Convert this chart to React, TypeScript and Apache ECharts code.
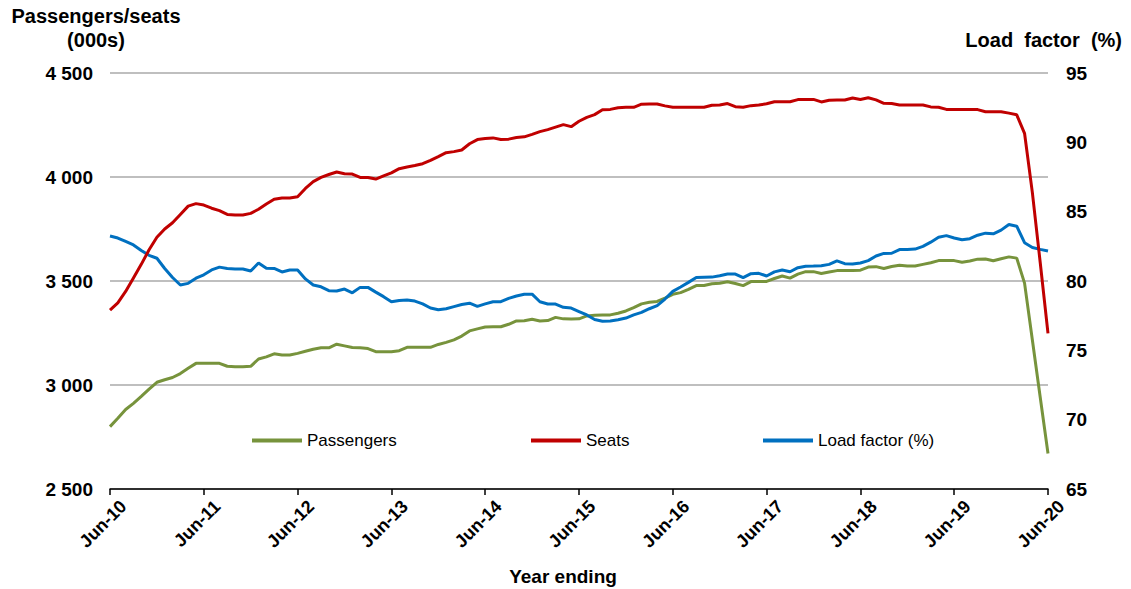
import React, { useEffect, useRef } from "react";
import * as echarts from "echarts";

const monthNames = ["Jan", "Feb", "Mar", "Apr", "May", "Jun", "Jul", "Aug", "Sep", "Oct", "Nov", "Dec"];
const startMonth = 5; // Jun
const startYear = 10; // 2010
const pointCount = 121;

const passengers = [
  2800, 2840, 2882, 2912, 2945, 2980, 3013, 3025, 3036, 3055, 3080, 3104,
  3104, 3104, 3104, 3090, 3088, 3088, 3090, 3125, 3135, 3150, 3144, 3144,
  3152, 3162, 3172, 3179, 3179, 3196, 3188, 3180, 3179, 3175, 3160, 3160,
  3160, 3165, 3181, 3181, 3181, 3181, 3195, 3205, 3217, 3235, 3260, 3270,
  3279, 3280, 3280, 3292, 3308, 3309, 3316, 3308, 3310, 3325, 3318, 3317,
  3318, 3332, 3335, 3337, 3337, 3345, 3356, 3372, 3390, 3398, 3402, 3418,
  3436, 3444, 3460, 3478, 3478, 3487, 3489, 3496, 3488, 3478, 3497, 3497,
  3498, 3512, 3524, 3514, 3533, 3545, 3545, 3536, 3543, 3550, 3550, 3550,
  3552, 3567, 3569, 3560, 3570, 3576, 3572, 3572, 3580, 3588, 3598, 3598,
  3598, 3590, 3596, 3605, 3606, 3597, 3607, 3616, 3610, 3490, 3216, 2942,
  2671,
];

const seats = [
  3360, 3395, 3450, 3515, 3580, 3650, 3710, 3750, 3780, 3820, 3860, 3872,
  3865, 3850, 3838, 3820, 3817, 3817, 3825, 3845, 3870, 3893, 3899, 3899,
  3905, 3945, 3978, 3998, 4012, 4024, 4016, 4014, 3998, 3998, 3990, 4005,
  4020, 4040, 4048, 4055, 4064, 4080, 4098, 4117, 4122, 4130, 4160, 4180,
  4185, 4188, 4180, 4182, 4190, 4193, 4205, 4218, 4228, 4240, 4252, 4242,
  4268, 4287, 4300, 4323, 4325, 4333, 4335, 4335, 4350, 4351, 4351, 4342,
  4335, 4335, 4335, 4335, 4335, 4345, 4346, 4353, 4338, 4335, 4343, 4346,
  4352, 4362, 4362, 4362, 4372, 4373, 4373, 4361, 4369, 4370, 4370, 4380,
  4373, 4381, 4371, 4354, 4353, 4346, 4346, 4346, 4346, 4337, 4335, 4325,
  4325, 4325, 4325, 4324, 4314, 4314, 4314, 4307, 4299, 4210, 3925, 3590,
  3248,
];

const loadFactor = [
  83.24, 83.1, 82.85, 82.6, 82.2, 81.85, 81.64, 80.9, 80.25, 79.71, 79.83, 80.2,
  80.45, 80.8, 81.0, 80.9, 80.86, 80.86, 80.72, 81.3, 80.92, 80.91, 80.65, 80.79,
  80.79, 80.15, 79.71, 79.58, 79.3, 79.28, 79.42, 79.15, 79.54, 79.54, 79.2, 78.87,
  78.5, 78.6, 78.63, 78.55, 78.35, 78.05, 77.93, 78.0, 78.15, 78.3, 78.4, 78.17,
  78.35, 78.5, 78.51, 78.75, 78.92, 79.05, 79.05, 78.5, 78.34, 78.34, 78.1, 78.05,
  77.8, 77.55, 77.22, 77.1, 77.11, 77.2, 77.33, 77.56, 77.74, 78.0, 78.22, 78.7,
  79.25, 79.57, 79.9, 80.26, 80.27, 80.28, 80.38, 80.5, 80.5, 80.24, 80.53, 80.55,
  80.36, 80.66, 80.79, 80.67, 80.96, 81.07, 81.08, 81.1, 81.2, 81.45, 81.25, 81.22,
  81.3, 81.47, 81.8, 81.99, 82.0, 82.27, 82.28, 82.3, 82.5, 82.8, 83.15, 83.27,
  83.1, 82.97, 83.05, 83.3, 83.45, 83.4, 83.67, 84.08, 83.95, 82.76, 82.42, 82.28,
  82.16,
];

const categories: string[] = [];
for (let i = 0; i < pointCount; i++) {
  const m = startMonth + i;
  categories.push(`${monthNames[m % 12]}-${startYear + Math.floor(m / 12)}`);
}

const FONT = "'Liberation Sans', Arial, Helvetica, sans-serif";
const GREEN = "#77933C";
const RED = "#C00000";
const BLUE = "#0070C0";

function fmtThousands(v: number): string {
  const s = String(Math.round(v));
  return s.replace(/\B(?=(\d{3})+(?!\d))/g, " ");
}

export default function App() {
  const ref = useRef<HTMLDivElement>(null);
  useEffect(() => {
    if (!ref.current) return;
    const chart = echarts.init(ref.current, null, { renderer: "svg" });
    const legendText = { fontFamily: FONT, fontSize: 17, color: "#000" };
    chart.setOption({
      animation: false,
      backgroundColor: "#fff",
      grid: { left: 110, right: 83, top: 73, bottom: 100, containLabel: false, outerBoundsMode: "none" },
      legend: [
        { data: [{ name: "Passengers" }], left: 247, top: 427, icon: "rect", itemWidth: 50, itemHeight: 4, textStyle: legendText, selectedMode: false },
        { data: [{ name: "Seats" }], left: 526, top: 427, icon: "rect", itemWidth: 50, itemHeight: 4, textStyle: legendText, selectedMode: false },
        { data: [{ name: "Load factor (%)" }], left: 758, top: 427, icon: "rect", itemWidth: 50, itemHeight: 4, textStyle: legendText, selectedMode: false },
      ],
      xAxis: {
        type: "category",
        data: categories,
        boundaryGap: false,
        axisLine: { lineStyle: { color: "#000", width: 1.5 } },
        axisTick: { interval: 11, length: 6, lineStyle: { color: "#000", width: 1.5 } },
        axisLabel: {
          interval: 11,
          rotate: 45,
          margin: 1,
          verticalAlign: "top",
          padding: [10, 0, 0, 0],
          fontFamily: FONT,
          fontSize: 18,
          fontWeight: "bold",
          color: "#000",
        },
        splitLine: { show: false },
      },
      yAxis: [
        {
          type: "value",
          min: 2500,
          max: 4500,
          interval: 500,
          axisLine: { show: false },
          axisTick: { show: false },
          axisLabel: {
            margin: 17,
            fontFamily: FONT,
            fontSize: 19,
            fontWeight: "bold",
            color: "#000",
            formatter: (v: number) => fmtThousands(v),
          },
          splitLine: { show: true, lineStyle: { color: "#BFBFBF", width: 2 } },
        },
        {
          type: "value",
          min: 65,
          max: 95,
          interval: 5,
          axisLine: { show: false },
          axisTick: { show: false },
          axisLabel: {
            margin: 18,
            fontFamily: FONT,
            fontSize: 19,
            fontWeight: "bold",
            color: "#000",
          },
          splitLine: { show: false },
        },
      ],
      series: [
        {
          name: "Passengers",
          type: "line",
          data: passengers,
          yAxisIndex: 0,
          showSymbol: false,
          symbol: "none",
          color: GREEN,
          lineStyle: { color: GREEN, width: 3 },
          z: 2,
        },
        {
          name: "Load factor (%)",
          type: "line",
          data: loadFactor,
          yAxisIndex: 1,
          showSymbol: false,
          symbol: "none",
          color: BLUE,
          lineStyle: { color: BLUE, width: 3 },
          z: 3,
        },
        {
          name: "Seats",
          type: "line",
          data: seats,
          yAxisIndex: 0,
          showSymbol: false,
          symbol: "none",
          color: RED,
          lineStyle: { color: RED, width: 3 },
          z: 4,
        },
      ],
      graphic: [
        {
          type: "text",
          x: 96,
          y: 4,
          style: {
            text: "Passengers/seats\n(000s)",
            textAlign: "center",
            textVerticalAlign: "top",
            fontFamily: FONT,
            fontSize: 20,
            fontWeight: "bold",
            lineHeight: 24,
            fill: "#000",
          },
        },
        {
          type: "text",
          x: 1122,
          y: 40,
          style: {
            text: "Load  factor  (%)",
            textAlign: "right",
            textVerticalAlign: "middle",
            fontFamily: FONT,
            fontSize: 20,
            fontWeight: "bold",
            fill: "#000",
          },
        },
        {
          type: "text",
          x: 563,
          y: 576,
          style: {
            text: "Year ending",
            textAlign: "center",
            textVerticalAlign: "middle",
            fontFamily: FONT,
            fontSize: 19,
            fontWeight: "bold",
            fill: "#000",
          },
        },
      ],
    });
    return () => chart.dispose();
  }, []);
  return (
    <div
      ref={ref}
      style={{ position: "absolute", left: 0, top: 0, width: 1131, height: 589 }}
    />
  );
}
